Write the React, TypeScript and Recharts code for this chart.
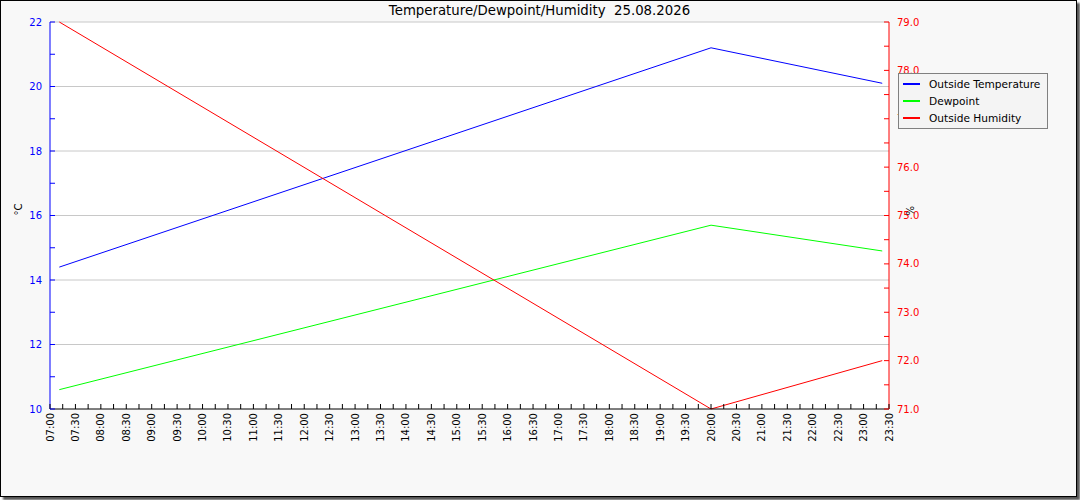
import React from 'react';
import { CartesianGrid, Legend, Line, LineChart, ReferenceLine, XAxis, YAxis } from 'recharts';

// reading times, minutes after midnight
const times = [431, 1200, 1402];
const temperature = [14.4, 21.2, 20.1];
const dewpoint = [10.6, 15.7, 14.9];
const humidity = [79.0, 71.0, 72.0];

const timeTicks = Array.from({ length: 67 }, (_, i) => 420 + i * 15);
const tempTicks = [10, 11, 12, 13, 14, 15, 16, 17, 18, 19, 20, 21, 22];
const tempGrid = [12, 14, 16, 18, 20, 22];
const humTicks = [71, 71.5, 72, 72.5, 73, 73.5, 74, 74.5, 75, 75.5, 76, 76.5, 77, 77.5, 78, 78.5, 79];

const series = [
	{ key: 'temp', name: 'Outside Temperature', color: '#0000ff', axis: 'left' },
	{ key: 'dew', name: 'Dewpoint', color: '#00ff00', axis: 'left' },
	{ key: 'hum', name: 'Outside Humidity', color: '#ff0000', axis: 'right' },
];

const data = times.map((t, i) => ({
	t,
	temp: temperature[i],
	dew: dewpoint[i],
	hum: humidity[i],
}));

const font = '"DejaVu Sans", sans-serif';

const hhmm = (m: number) =>
	`${String(Math.floor(m / 60)).padStart(2, '0')}:${String(m % 60).padStart(2, '0')}`;

const TimeTick = (props: any) => {
	const { x, y, payload } = props;
	const v = payload.value as number;
	return (
		<g>
			<line x1={x} x2={x} y1={y} y2={y - 5} stroke="#000" />
			{v % 30 === 0 && (
				<text
					x={x}
					y={y + 4}
					transform={`rotate(-90 ${x} ${y + 4})`}
					textAnchor="end"
					dy="0.35em"
					fontSize={10}
					fontFamily={font}
					fill="#000"
				>
					{hhmm(v)}
				</text>
			)}
		</g>
	);
};

const TempTick = (props: any) => {
	const { x, y, payload } = props;
	const v = payload.value as number;
	return (
		<g>
			<line x1={x} x2={x + 5} y1={y} y2={y} stroke="#0000ff" />
			{v % 2 === 0 && (
				<text x={x - 8} y={y} dy="0.35em" textAnchor="end" fontSize={10} fontFamily={font} fill="#0000ff">
					{v}
				</text>
			)}
		</g>
	);
};

const HumTick = (props: any) => {
	const { x, y, payload } = props;
	const v = payload.value as number;
	return (
		<g>
			<line x1={x} x2={x - 5} y1={y} y2={y} stroke="#ff0000" />
			{Number.isInteger(v) && (
				<text x={x + 8} y={y} dy="0.35em" textAnchor="start" fontSize={10} fontFamily={font} fill="#ff0000">
					{v.toFixed(1)}
				</text>
			)}
		</g>
	);
};

const LegendBox = () => (
	<div
		style={{
			width: 148,
			height: 53,
			border: '1px solid #808080',
			background: '#f4f4f4',
			fontFamily: font,
			fontSize: 10.6,
			paddingTop: 1,
			boxSizing: 'content-box',
		}}
	>
		{series.map((s) => (
			<div key={s.key} style={{ display: 'flex', alignItems: 'center', height: 17 }}>
				<span style={{ display: 'inline-block', width: 17, height: 2, background: s.color, marginLeft: 4 }} />
				<span style={{ marginLeft: 9, color: '#000' }}>{s.name}</span>
			</div>
		))}
	</div>
);

export default function App() {
	return (
		<div
			style={{
				position: 'absolute',
				left: 0,
				top: 0,
				width: 1075,
				height: 495,
				border: '1px solid #000',
				background: '#f8f8f8',
				boxShadow: '3px 3px 2px #555',
			}}
		>
			<div
				style={{
					position: 'absolute',
					left: 0,
					top: 2,
					width: 1077,
					textAlign: 'center',
					fontFamily: font,
					fontSize: 13.3,
					whiteSpace: 'pre',
					color: '#000',
				}}
			>
				{'Temperature/Dewpoint/Humidity  25.08.2026'}
			</div>
			<div style={{ position: 'absolute', left: -1, top: -1 }}>
				<LineChart width={1080} height={500} data={data} margin={{ top: 22, right: 151, bottom: 31, left: 10 }}>
					<CartesianGrid horizontal={false} vertical={false} fill="#ffffff" />
					{tempGrid.map((v) => (
						<ReferenceLine key={v} y={v} yAxisId="left" stroke="#c8c8c8" />
					))}
					<XAxis
						dataKey="t"
						type="number"
						domain={[420, 1410]}
						ticks={timeTicks}
						interval={0}
						tick={<TimeTick />}
						tickLine={false}
						tickSize={0}
						tickMargin={0}
						height={60}
						axisLine={{ stroke: '#000' }}
					/>
					<YAxis
						yAxisId="left"
						domain={[10, 22]}
						ticks={tempTicks}
						interval={0}
						tick={<TempTick />}
						tickLine={false}
						tickSize={0}
						tickMargin={0}
						width={40}
						axisLine={{ stroke: '#0000ff' }}
						label={{ value: '°C', angle: -90, position: 'insideLeft', offset: 8, fontSize: 10, fontFamily: font, fill: '#000' }}
					/>
					<YAxis
						yAxisId="right"
						orientation="right"
						domain={[71, 79]}
						ticks={humTicks}
						interval={0}
						tick={<HumTick />}
						tickLine={false}
						tickSize={0}
						tickMargin={0}
						width={40}
						axisLine={{ stroke: '#ff0000' }}
						label={{ value: '%', angle: -90, position: 'insideLeft', offset: 21, fontSize: 10, fontFamily: font, fill: '#000' }}
					/>
					<Legend
						layout="vertical"
						align="center"
						verticalAlign="middle"
						wrapperStyle={{ left: 898, top: 73, width: 'auto', height: 'auto' }}
						content={<LegendBox />}
					/>
					{series.map((s) => (
						<Line
							key={s.key}
							yAxisId={s.axis}
							dataKey={s.key}
							name={s.name}
							stroke={s.color}
							strokeWidth={1}
							dot={false}
							activeDot={false}
							isAnimationActive={false}
						/>
					))}
				</LineChart>
			</div>
		</div>
	);
}
